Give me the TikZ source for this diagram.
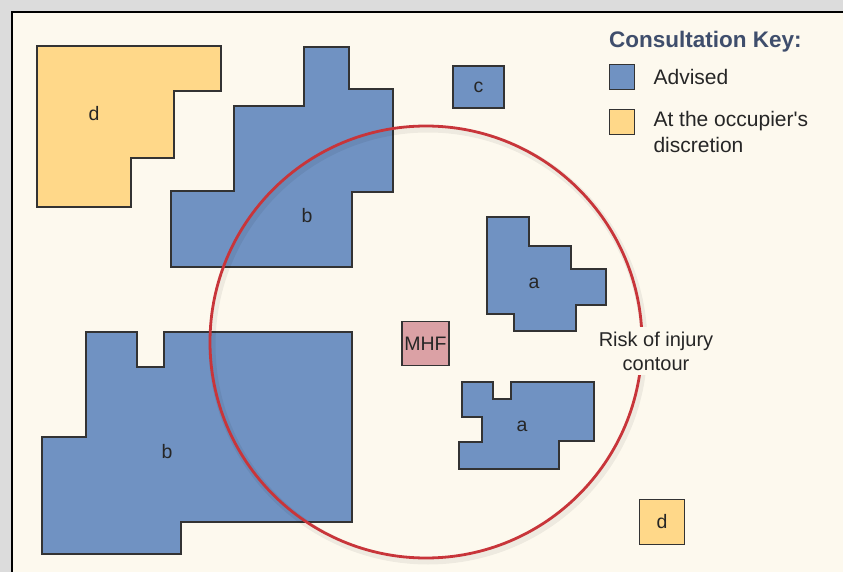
\documentclass[tikz,border=0pt]{standalone}
\usepackage{fontspec}
\setmainfont{Liberation Sans}
\usetikzlibrary{positioning}
\definecolor{pagegray}{HTML}{DCDCDC}
\definecolor{panel}{HTML}{FDF9EE}
\definecolor{advblue}{HTML}{7092C2}
\definecolor{optyellow}{HTML}{FFD889}
\definecolor{mhfpink}{HTML}{DBA1A5}
\definecolor{riskred}{HTML}{C8353A}
\definecolor{keyslate}{HTML}{3F4E6C}

\begin{document}
\begin{tikzpicture}[x=1pt, y=-1pt,
    zone/.style={draw=black!80, line width=1.2pt},
    advised/.style={zone, fill=advblue},
    optional/.style={zone, fill=optyellow},
    lbl/.style={font=\fontsize{19.5}{24}\selectfont, text=black!85},
    keytext/.style={font=\fontsize{21}{26}\selectfont, text=black!85, align=left}
]
\useasboundingbox (0,0) rectangle (843,572);
\fill[pagegray] (0,0) rectangle (843,572);
\fill[panel] (12,12) rectangle (843,572);
\draw[line width=1.5pt] (843,12) -- (12,12) -- (12,572);

% land-use zones
\draw[optional] (37,46) -- (221,46) -- (221,91) -- (174,91) -- (174,158) -- (131,158) -- (131,207) -- (37,207) -- cycle;
\node[lbl] (d1) at (94,114) {d};
\draw[advised] (171,191) -- (234,191) -- (234,106) -- (304,106) -- (304,47) -- (349,47) -- (349,89) -- (393,89) -- (393,192) -- (352,192) -- (352,267) -- (171,267) -- cycle;
\node[lbl] (b1) at (307,216) {b};
\draw[advised] (86,332) -- (137,332) -- (137,367) -- (164,367) -- (164,332) -- (352,332) -- (352,522) -- (181,522) -- (181,554) -- (42,554) -- (42,437) -- (86,437) -- cycle;
\node[lbl] (b2) at (167,452) {b};
\draw[advised] (487,217) -- (529,217) -- (529,246) -- (571,246) -- (571,269) -- (606,269) -- (606,305) -- (576,305) -- (576,331) -- (514,331) -- (514,314) -- (487,314) -- cycle;
\node[lbl] (a1) at (534,283) {a};
\draw[advised] (462,382) -- (493,382) -- (493,399) -- (511,399) -- (511,382) -- (594,382) -- (594,441) -- (559,441) -- (559,469) -- (459,469) -- (459,442) -- (482,442) -- (482,417) -- (462,417) -- cycle;
\node[lbl] (a2) at (522,426) {a};
\node[advised, lbl, minimum width=51pt, minimum height=42pt] (c) at (478.5,87) {c};
\node[optional, lbl, minimum width=45pt, minimum height=45pt] (d2) at (662,522) {d};
\node[zone, lbl, fill=mhfpink, minimum width=47pt, minimum height=44pt, inner sep=1pt] (mhf) at (425.5,343.5) {MHF};

% risk contour
\draw[black, opacity=0.06, line width=7pt] (428,345) circle (216pt);
\draw[riskred, line width=2.8pt] (426,342) circle (216pt);
\node[lbl, font=\fontsize{20}{24}\selectfont, fill=panel, align=center, inner sep=5pt] (risk) at (656,351) {Risk of injury\\contour};

% key
\node[font=\bfseries\fontsize{22.5}{26}\selectfont, text=keyslate, anchor=west, inner sep=0pt] (keytitle) at (609,42) {Consultation Key:};
\node[advised, minimum size=25pt, inner sep=0pt] (keyadv) at (622,77) {};
\node[keytext, right=15pt of keyadv] (advtext) {Advised};
\node[optional, minimum size=25pt, inner sep=0pt] (keyopt) at (622,122) {};
\node[keytext, anchor=north west] (opttext) at (650,108) {At the occupier\textquotesingle s\\discretion};
\end{tikzpicture}
\end{document}
